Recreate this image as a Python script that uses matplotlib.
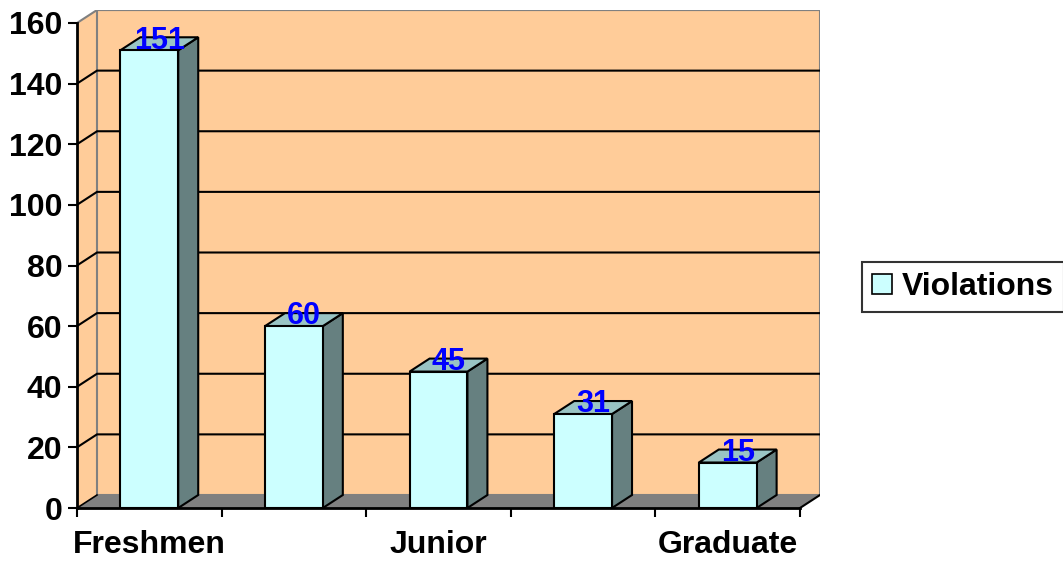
import matplotlib.pyplot as plt
from matplotlib.patches import Polygon, Rectangle, Patch

plt.rcParams['font.family'] = ['Liberation Sans', 'DejaVu Sans']
plt.rcParams['font.weight'] = 'bold'

categories = ["Freshmen", "Sophomore", "Junior", "Senior", "Graduate"]
violations = [151, 60, 45, 31, 15]
y_ticks = [0, 20, 40, 60, 80, 100, 120, 140, 160]
series_name = "Violations"

wall_color = "#FFCC99"
floor_color = "#808080"
front_color = "#CCFFFF"
top_color = "#99C4C4"
side_color = "#668080"

W, H = 1063, 563
fig = plt.figure(figsize=(W / 100, H / 100), dpi=100)
# axes: front-left corner of plot at (77, 508) px, back-right corner at (820, 10) px
ax = fig.add_axes([77 / W, (H - 508) / H, (820 - 77) / W, (508 - 10) / H])

n = len(categories)
ymax = 160
dx_px, dy_px = 20, 13
unit_x = (800 - 77) / n
unit_y = (508 - 23) / ymax
dx = dx_px / unit_x
dy = dy_px / unit_y
ax.set_xlim(0, n + dx)
ax.set_ylim(0, ymax + dy)
ax.set_facecolor("none")

# walls and floor
ax.add_patch(Polygon([(0, 0), (0, ymax), (dx, ymax + dy), (dx, dy)],
                     closed=True, facecolor=wall_color, edgecolor="none", zorder=1))
ax.add_patch(Rectangle((dx, dy), n, ymax, facecolor=wall_color,
                       edgecolor=floor_color, lw=1.5, zorder=1))
ax.add_patch(Polygon([(0, 0), (n, 0), (n + dx, dy), (dx, dy)],
                     closed=True, facecolor=floor_color, edgecolor="none", zorder=2))

# gridlines on left and back walls
for v in y_ticks[1:]:
    c = floor_color if v == ymax else "black"
    ax.plot([0, dx, n + dx], [v, v + dy, v + dy], color=c, lw=1.5, zorder=2,
            solid_joinstyle="miter")
ax.plot([0, dx], [0, dy], color="black", lw=1.2, zorder=3)
ax.plot([n, n + dx], [0, dy], color="black", lw=1.5, zorder=3)

# bars
w = 0.4
for i, v in enumerate(violations):
    x0 = i + 0.5 - w / 2
    x1 = x0 + w
    ax.add_patch(Polygon([(x1, 0), (x1 + dx, dy), (x1 + dx, v + dy), (x1, v)],
                         closed=True, facecolor=side_color, edgecolor="black",
                         lw=1.5, zorder=4))
    ax.add_patch(Polygon([(x0, v), (x1, v), (x1 + dx, v + dy), (x0 + dx, v + dy)],
                         closed=True, facecolor=top_color, edgecolor="black",
                         lw=1.5, zorder=4))
    ax.add_patch(Rectangle((x0, 0), w, v, facecolor=front_color,
                           edgecolor="black", lw=1.5, zorder=5))
    ax.text(i + 0.5 + dx / 2, v + dy * 0.75, str(v), color="#0000FF",
            fontsize=22, fontweight="bold", ha="center", va="center", zorder=6)

# axes lines and ticks
for s in ["top", "right"]:
    ax.spines[s].set_visible(False)
ax.spines["left"].set_bounds(0, ymax)
ax.spines["bottom"].set_bounds(0, n)
for s in ["left", "bottom"]:
    ax.spines[s].set_linewidth(2)
    ax.spines[s].set_zorder(7)
ax.set_yticks(y_ticks)
ax.set_yticklabels([str(t) for t in y_ticks], fontsize=23, fontweight="bold")
ax.set_xticks(range(n + 1))
ax.set_xticklabels([])
ax.set_xticks([i + 0.5 for i in range(n)], minor=True)
# only every other category label fits, as in the original
ax.set_xticklabels([c if i % 2 == 0 else "" for i, c in enumerate(categories)],
                   minor=True, fontsize=23, fontweight="bold")
ax.tick_params(axis="both", which="major", direction="out", length=6.5, width=1.5)
ax.tick_params(axis="y", pad=4)
ax.tick_params(axis="x", which="minor", length=0, pad=16)

leg = fig.legend(handles=[Patch(facecolor=front_color, edgecolor="black", lw=1.2)],
                 labels=[series_name], loc="center left",
                 bbox_to_anchor=(862 / W, (H - 287) / H), frameon=True,
                 fancybox=False, prop={"size": 23, "weight": "bold"},
                 handlelength=0.65, handleheight=0.6, handletextpad=0.3,
                 borderpad=0.3, borderaxespad=0)
leg.get_frame().set_edgecolor("black")
leg.get_frame().set_linewidth(1.5)

fig.savefig("out.png", dpi=100)
